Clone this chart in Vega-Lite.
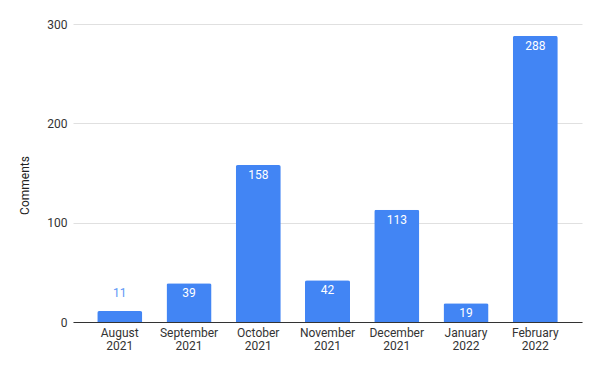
{
  "$schema": "https://vega.github.io/schema/vega-lite/v6.json",
  "width": 509,
  "height": 298,
  "autosize": {"type": "none"},
  "padding": {"left": 73, "top": 24, "right": 18, "bottom": 48},
  "background": "white",
  "config": {
    "font": "Roboto",
    "view": {"stroke": null}
  },
  "data": {
    "values": [
      {"month": "August 2021", "comments": 11},
      {"month": "September 2021", "comments": 39},
      {"month": "October 2021", "comments": 158},
      {"month": "November 2021", "comments": 42},
      {"month": "December 2021", "comments": 113},
      {"month": "January 2022", "comments": 19},
      {"month": "February 2022", "comments": 288}
    ]
  },
  "encoding": {
    "x": {
      "field": "month",
      "type": "nominal",
      "sort": null,
      "scale": {"paddingInner": 0.35, "paddingOuter": 0.35},
      "axis": {
        "title": null,
        "labelAngle": 0,
        "labelExpr": "split(datum.label, ' ')",
        "labelFont": "Roboto",
        "labelFontSize": 12,
        "labelColor": "#333333",
        "labelLineHeight": 13,
        "labelPadding": 5,
        "ticks": false,
        "domainColor": "#333333",
        "domainWidth": 1,
        "grid": false
      }
    },
    "y": {
      "field": "comments",
      "type": "quantitative",
      "scale": {"domain": [0, 300], "nice": false},
      "axis": {
        "title": "Comments",
        "titleFont": "Roboto",
        "titleFontSize": 12,
        "titleFontWeight": "normal",
        "titleColor": "#222222",
        "titleX": -49,
        "titleY": 161,
        "titleAngle": -90,
        "titleAlign": "center",
        "titleBaseline": "middle",
        "values": [0, 100, 200, 300],
        "labelFont": "Roboto",
        "labelFontSize": 12,
        "labelColor": "#333333",
        "labelPadding": 6,
        "ticks": false,
        "domain": false,
        "gridColor": "#e0e0e0",
        "gridWidth": 1
      }
    }
  },
  "layer": [
    {
      "mark": {"type": "bar", "color": "#4285F4", "cornerRadiusTopLeft": 2, "cornerRadiusTopRight": 2}
    },
    {
      "transform": [{"filter": "datum.comments >= 15"}],
      "mark": {"type": "text", "color": "white", "baseline": "middle", "dy": 10, "fontSize": 12, "font": "Roboto"},
      "encoding": {"text": {"field": "comments", "type": "quantitative"}}
    },
    {
      "transform": [{"filter": "datum.comments < 15"}],
      "mark": {"type": "text", "color": "#5e97f6", "baseline": "middle", "dy": -18, "fontSize": 12, "font": "Roboto"},
      "encoding": {"text": {"field": "comments", "type": "quantitative"}}
    }
  ]
}
